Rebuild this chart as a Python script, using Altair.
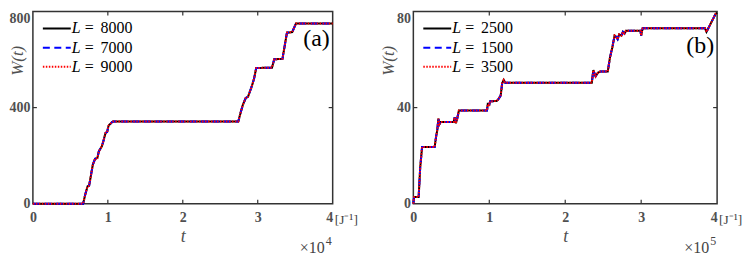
import altair as alt
import pandas as pd

# ---------------- data ----------------
# panel (a): t in units of 1e4 J^-1
t_a = [0.00, 0.67, 0.70, 0.73, 0.75, 0.77, 0.80, 0.83, 0.86, 0.88,
       0.92, 0.94, 0.97, 0.99, 1.01, 1.05, 1.07, 2.74, 2.77, 2.80,
       2.84, 2.87, 2.92, 2.95, 2.98, 3.19, 3.22, 3.33, 3.39, 3.46,
       3.51, 4.00]
w_a = [0, 0, 40, 73, 75, 110, 163, 187, 190, 218,
       239, 260, 295, 298, 325, 338, 342, 342, 377, 410,
       440, 445, 488, 519, 565, 566, 601, 603, 712, 714,
       750, 750]

# panel (b): t in units of 1e5 J^-1
t_b = [0.00, 0.01, 0.07, 0.09, 0.115, 0.28, 0.30, 0.315, 0.33, 0.345,
       0.36, 0.53, 0.545, 0.56, 0.575, 0.60, 0.97, 0.98, 1.00, 1.01,
       1.10, 1.12, 1.15, 1.17, 1.19, 1.21, 2.35, 2.37, 2.40, 2.43,
       2.46, 2.56, 2.59, 2.62, 2.65, 2.67, 2.69, 2.71, 2.74, 2.76,
       2.78, 2.80, 2.99, 3.00, 3.02, 3.84, 3.86, 3.90, 3.94, 3.98,
       4.00]
w_b = [0, 2.8, 2.8, 15, 23.6, 23.6, 28, 30.6, 35.4, 33.2,
       34, 34, 36, 33.5, 35, 38.8, 38.8, 41.5, 41.2, 42.6,
       42.8, 43.5, 45, 50.2, 51.5, 50.3, 50.3, 55.6, 53, 54.5,
       55, 55, 61, 65, 70, 69.5, 68.5, 70.5, 70, 71.5,
       70.8, 72, 72, 70, 73, 73, 71.5, 74, 76.5, 79,
       79.5]

L_a = ["8000", "7000", "9000"]
L_b = ["2500", "1500", "3500"]
series_colors = ["#000000", "#0000ff", "#ff0000"]
series_dash = [[1, 0], [7, 4.5], [1.5, 1.5]]

x_ticks = [0, 1, 2, 3, 4]
y_ticks_a = [0, 400, 800]
y_ticks_b = [0, 40, 80]

FRAME = "#333333"
LABEL = "#505050"
SERIF = "Liberation Serif, Times New Roman, Times, serif"
H = 193


def panel(t, w, Ls, ymax, yvals, width, tag, exponent, title_x, tag_y):
    df = pd.DataFrame({"t": t, "W": w, "i": list(range(len(t)))})
    xs = alt.Scale(domain=[0, 4], nice=False, zero=False)
    ys = alt.Scale(domain=[0, ymax], nice=False)
    xaxis = alt.Axis(values=x_ticks, title="t", domain=False, ticks=False, grid=False,
                     labelFont=SERIF, labelFontWeight="bold", labelFontSize=14,
                     labelColor=LABEL, labelPadding=7, labelFlush=False,
                     labelAlign={"expr": "datum.value >= 4 ? 'right' : 'center'"},
                     titleFont=SERIF, titleFontStyle="italic", titleFontWeight="normal",
                     titleFontSize=18, titleColor=LABEL, titlePadding=3)
    yaxis = alt.Axis(values=yvals, title="W(t)", domain=False, ticks=False, grid=False,
                     labelFont=SERIF, labelFontWeight="bold", labelFontSize=14,
                     labelColor=LABEL, labelPadding=3, labelFlush=False,
                     labelBaseline={"expr": f"datum.value >= {ymax} ? 'top' : 'middle'"},
                     titleFont=SERIF, titleFontStyle="italic", titleFontWeight="normal",
                     titleFontSize=17, titleColor=LABEL,
                     titleX=title_x, titleY=49, titleAngle=270,
                     titleAlign="center", titleBaseline="middle")
    x = alt.X("t:Q", scale=xs, axis=xaxis)
    y = alt.Y("W:Q", scale=ys, axis=yaxis)
    layers = []
    for c, d in zip(series_colors, series_dash):
        layers.append(alt.Chart(df).mark_line(color=c, strokeWidth=2, strokeDash=d)
                      .encode(x=x, y=y, order="i:Q"))

    # inward ticks (all four sides)
    xt = pd.DataFrame({"t": x_ticks[1:-1]})
    yt = pd.DataFrame({"W": yvals[1:-1]})
    for y0, y1 in [(H, H - 4), (0, 4)]:
        layers.append(alt.Chart(xt).mark_rule(color=FRAME, strokeWidth=1.2)
                      .encode(x=x, y=alt.value(y0), y2=alt.value(y1)))
    for x0, x1 in [(0, 4), (width - 4, width)]:
        layers.append(alt.Chart(yt).mark_rule(color=FRAME, strokeWidth=1.2)
                      .encode(y=y, x=alt.value(x0), x2=alt.value(x1)))

    # legend
    one = pd.DataFrame({"k": [0]})
    rows = [17, 36.3, 55.5]
    for ry, c, d, L in zip(rows, series_colors, series_dash, Ls):
        layers.append(alt.Chart(one).mark_rule(color=c, strokeWidth=2, strokeDash=d)
                      .encode(x=alt.value(10), x2=alt.value(38), y=alt.value(ry)))
        layers.append(alt.Chart(pd.DataFrame({"s": ["L"]})).mark_text(
            font=SERIF, fontSize=16, fontStyle="italic", color="#000000",
            align="left", baseline="middle").encode(text="s:N", x=alt.value(39), y=alt.value(ry)))
        layers.append(alt.Chart(pd.DataFrame({"s": ["="]})).mark_text(
            font=SERIF, fontSize=16, color="#000000",
            align="left", baseline="middle").encode(text="s:N", x=alt.value(52), y=alt.value(ry)))
        layers.append(alt.Chart(pd.DataFrame({"s": [L]})).mark_text(
            font=SERIF, fontSize=16, color="#000000",
            align="left", baseline="middle").encode(text="s:N", x=alt.value(68), y=alt.value(ry)))

    # panel tag
    layers.append(alt.Chart(pd.DataFrame({"s": [tag]})).mark_text(
        font=SERIF, fontSize=24, color="#000000", align="right", baseline="middle")
        .encode(text="s:N", x=alt.value(width - 3), y=alt.value(tag_y)))
    # unit and scale factor
    layers.append(alt.Chart(pd.DataFrame({"s": ["[J\u207b\u00b9]"]})).mark_text(
        font=SERIF, fontSize=13.5, color="#444444", align="left", baseline="alphabetic")
        .encode(text="s:N", x=alt.value(width + 2), y=alt.value(H + 20)))
    layers.append(alt.Chart(pd.DataFrame({"s": ["\u00d710"]})).mark_text(
        font=SERIF, fontSize=16, color="#444444", align="right", baseline="alphabetic")
        .encode(text="s:N", x=alt.value(width - 8), y=alt.value(H + 49)))
    layers.append(alt.Chart(pd.DataFrame({"s": [exponent]})).mark_text(
        font=SERIF, fontSize=12, color="#444444", align="left", baseline="alphabetic")
        .encode(text="s:N", x=alt.value(width - 7), y=alt.value(H + 41)))

    return alt.layer(*layers).properties(width=width, height=H)


pa = panel(t_a, w_a, L_a, 800, y_ticks_a, 301, "(a)", "4", -15, 28)
pb = panel(t_b, w_b, L_b, 80, y_ticks_b, 305, "(b)", "5", -25, 35)

chart = alt.hconcat(pa, pb, spacing=81, bounds="flush").properties(
    padding={"left": 0, "top": -1, "right": 0, "bottom": 0}
).configure_view(stroke=FRAME, strokeWidth=1.5)

chart.save("out.html", embed_options={"renderer": "svg", "actions": False})
